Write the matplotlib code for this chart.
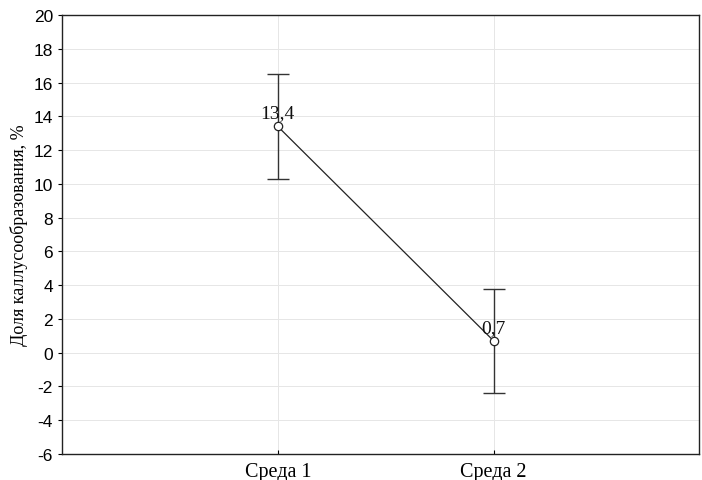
import matplotlib
matplotlib.use("Agg")
import matplotlib.pyplot as plt

categories = ["Среда 1", "Среда 2"]
means = [13.4, 0.7]
errors = [3.1, 3.1]
value_labels = ["13,4", "0,7"]
y_ticks = list(range(-6, 21, 2))

fig = plt.figure(figsize=(7.02, 4.81), dpi=100)
ax = fig.add_axes([0.0883, 0.054, 0.907, 0.9127])

xs = [1, 2]
ax.errorbar(xs, means, yerr=errors, fmt="none", ecolor="#333333",
            elinewidth=1.0, capsize=8, capthick=1.0, zorder=2)
ax.plot(xs, means, color="#222222", linewidth=0.9, marker="o",
        markersize=6, markerfacecolor="white", markeredgecolor="#222222",
        markeredgewidth=0.9, zorder=3)

for x, m, lab in zip(xs, means, value_labels):
    ax.text(x, m + 0.3, lab, ha="center", va="bottom",
            family="Liberation Serif", fontsize=14, color="#111111")

ax.set_xlim(0, 2.95)
ax.set_ylim(-6, 20)
ax.set_yticks(y_ticks)
ax.set_yticklabels([str(t) for t in y_ticks], family="Liberation Sans", fontsize=12.5)
ax.set_xticks(xs)
ax.set_xticklabels(categories, family="Liberation Serif", fontsize=14.5)
ax.tick_params(axis="y", direction="out", length=3, width=0.8)
ax.tick_params(axis="x", direction="in", length=3, width=0.8, pad=6)

ax.grid(True, color="#e6e6e6", linewidth=0.7, zorder=0)
ax.set_axisbelow(True)
for s in ax.spines.values():
    s.set_linewidth(1.0)
    s.set_color("#222222")

ax.set_ylabel("Доля каллусообразования, %", family="Liberation Serif",
              fontsize=13, labelpad=4)

fig.savefig("out.png", dpi=100)
